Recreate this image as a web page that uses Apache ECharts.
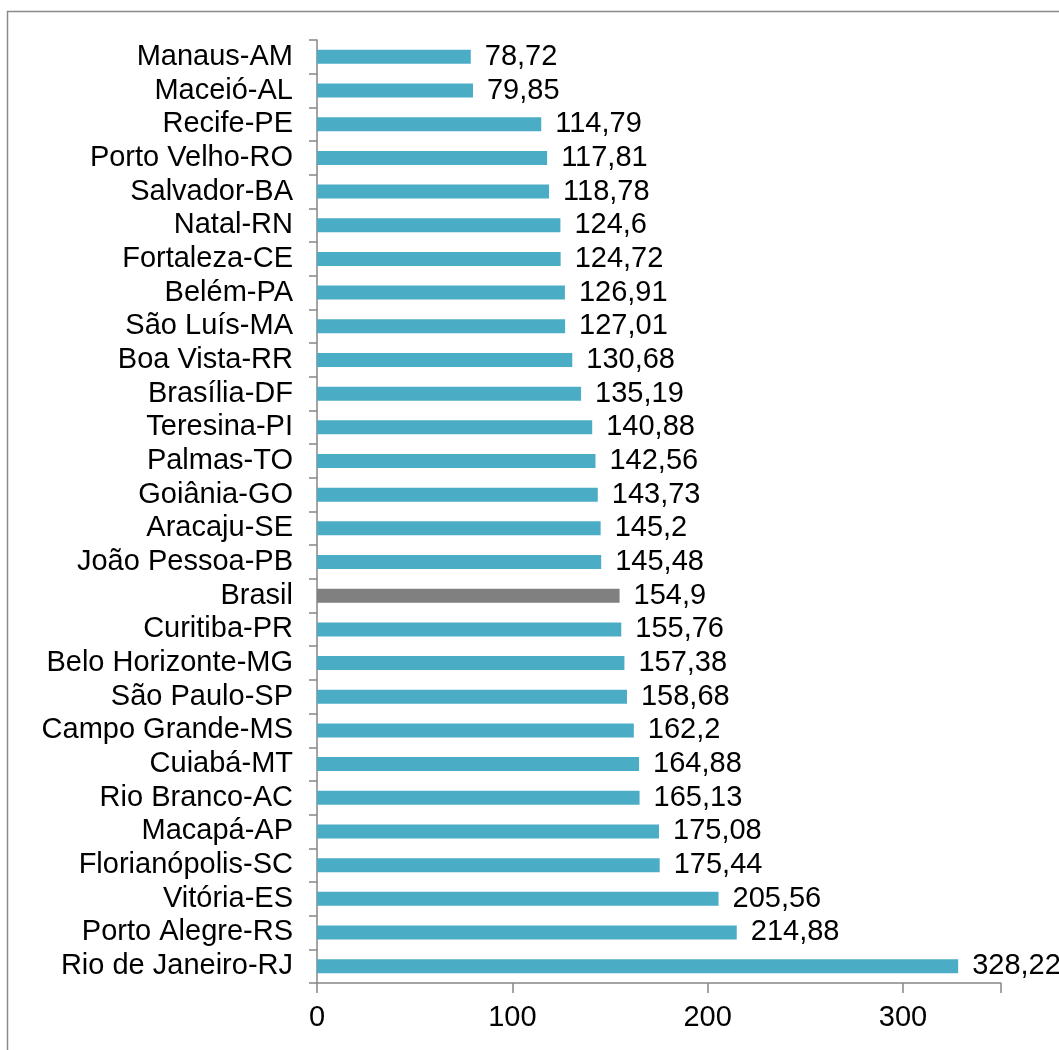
<!DOCTYPE html>
<html>
<head>
<meta charset="utf-8">
<script src="https://cdn.jsdelivr.net/npm/echarts@6/dist/echarts.min.js"></script>
<style>
html,body{margin:0;padding:0;background:#fff;}
#chart{width:1059px;height:1050px;}
</style>
</head>
<body>
<div id="chart"></div>
<script>
const categories = ["Manaus-AM","Maceió-AL","Recife-PE","Porto Velho-RO","Salvador-BA","Natal-RN","Fortaleza-CE","Belém-PA","São Luís-MA","Boa Vista-RR","Brasília-DF","Teresina-PI","Palmas-TO","Goiânia-GO","Aracaju-SE","João Pessoa-PB","Brasil","Curitiba-PR","Belo Horizonte-MG","São Paulo-SP","Campo Grande-MS","Cuiabá-MT","Rio Branco-AC","Macapá-AP","Florianópolis-SC","Vitória-ES","Porto Alegre-RS","Rio de Janeiro-RJ"];
const values = [78.72,79.85,114.79,117.81,118.78,124.6,124.72,126.91,127.01,130.68,135.19,140.88,142.56,143.73,145.2,145.48,154.9,155.76,157.38,158.68,162.2,164.88,165.13,175.08,175.44,205.56,214.88,328.22];
const xTicks = [0,100,200,300];
const highlightName = "Brasil";

const FONT = '"Liberation Sans", Arial, sans-serif';
const chart = echarts.init(document.getElementById('chart'), null, {renderer:'canvas'});
chart.setOption({
  animation:false,
  backgroundColor:'#ffffff',
  graphic:[{type:'rect', shape:{x:7.5,y:11.5,width:1200,height:1200}, style:{fill:'none', stroke:'#8a8a8a', lineWidth:1.5}, silent:true}],
  grid:{left:317, top:40, right:58.3, bottom:67, containLabel:false},
  xAxis:{
    type:'value', min:0, max:350, interval:100,
    axisLine:{show:true, lineStyle:{color:'#868686', width:1.5}},
    axisTick:{show:true, length:10, lineStyle:{color:'#868686', width:1.5}},
    splitLine:{show:false},
    axisLabel:{
      color:'#000', fontSize:29, fontFamily:FONT, margin:20,
      formatter: v => xTicks.includes(v) ? String(v) : ''
    }
  },
  yAxis:{
    type:'category', inverse:true, data:categories,
    axisLine:{show:true, lineStyle:{color:'#868686', width:1.5}},
    axisTick:{show:true, length:8, interval:0, alignWithLabel:false, lineStyle:{color:'#868686', width:1.5}},
    axisLabel:{color:'#000', fontSize:29, fontFamily:FONT, margin:24, interval:0, hideOverlap:false}
  },
  series:[{
    type:'bar',
    barWidth:14,
    data: values.map((v,i)=>({value:v, itemStyle:{color: categories[i]===highlightName ? '#808080' : '#4BACC6'}})),
    label:{
      show:true, position:'right', distance:14,
      color:'#000', fontSize:29, fontFamily:FONT,
      formatter: p => String(p.value).replace('.', ',')
    }
  }]
});
</script>
</body>
</html>
